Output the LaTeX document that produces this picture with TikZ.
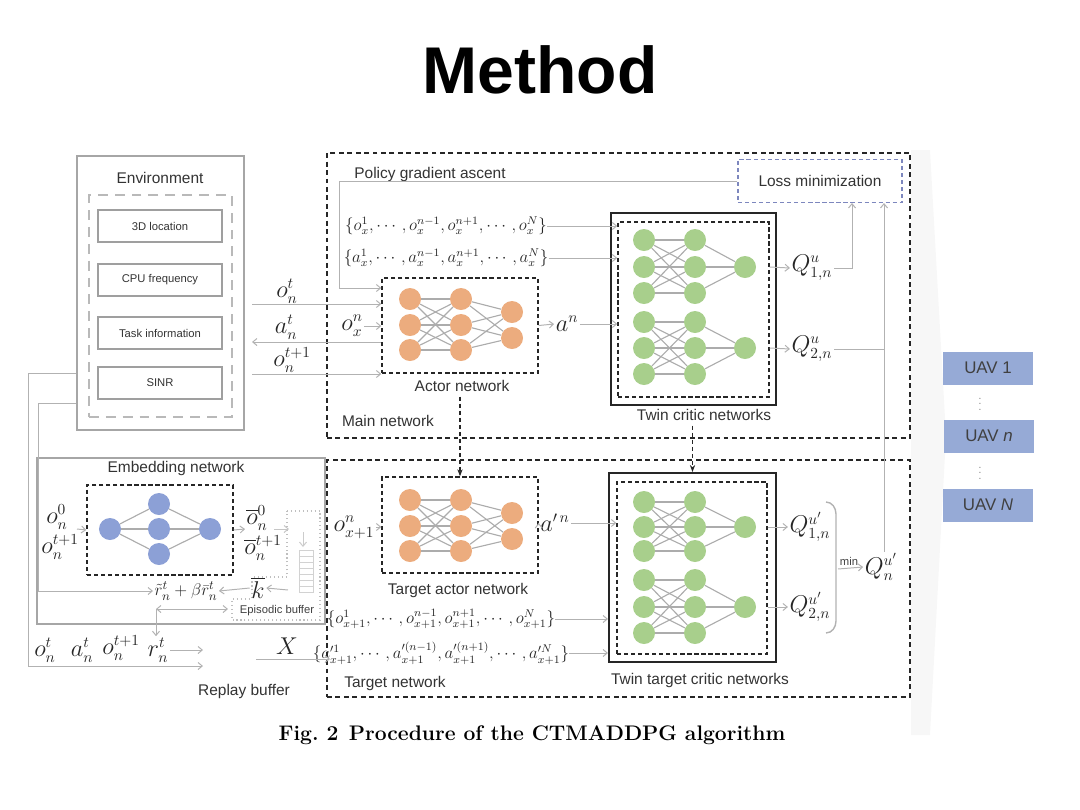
\documentclass[tikz,border=0pt]{standalone}
\usepackage{fontspec}
\setsansfont{Liberation Sans}
\usepackage{amsmath}
\usetikzlibrary{arrows.meta,fit}

\definecolor{actorc}{RGB}{236,172,126}
\definecolor{criticc}{RGB}{168,207,140}
\definecolor{embc}{RGB}{140,160,214}
\definecolor{uavc}{RGB}{150,170,214}
\definecolor{lossc}{RGB}{125,135,190}

\begin{document}
\begin{tikzpicture}[x=0.025cm,y=-0.025cm,font=\sffamily,
	bigbox/.style={draw=black!85,line width=1.3pt,dash pattern=on 3.5pt off 2.5pt,inner sep=0pt},
	netbox/.style={draw=black!85,line width=1pt,dash pattern=on 3pt off 2pt,inner sep=0pt},
	solidbox/.style={draw=black!85,line width=1.4pt,inner sep=0pt},
	envbox/.style={draw=gray!70,line width=1.2pt,inner sep=0pt},
	envdash/.style={draw=gray!55,line width=1.2pt,dash pattern=on 7pt off 5pt,inner sep=0pt},
	item/.style={draw=gray!75,line width=0.9pt,minimum width=3.1cm,minimum height=0.8cm,font=\sffamily\fontsize{8}{9}\selectfont,text=black!80},
	lossbox/.style={draw=lossc,line width=1pt,dash pattern=on 3pt off 2pt,minimum width=4.1cm,minimum height=1.08cm,font=\sffamily\fontsize{11}{13}\selectfont,text=black!80},
	actn/.style={circle,fill=actorc,minimum size=0.55cm,inner sep=0pt},
	crn/.style={circle,fill=criticc,minimum size=0.55cm,inner sep=0pt},
	embn/.style={circle,fill=embc,minimum size=0.55cm,inner sep=0pt},
	nnedge/.style={draw=gray!65,line width=0.8pt},
	flow/.style={draw=gray!60,line width=0.7pt,-{Straight Barb[length=3pt,width=5pt]}},
	line/.style={draw=gray!60,line width=0.7pt},
	dashflow/.style={draw=black!85,line width=1pt,dash pattern=on 3pt off 2pt,-{Stealth[length=5pt]}},
	lbl/.style={font=\sffamily\fontsize{11}{13}\selectfont,text=black!80},
	small/.style={font=\sffamily\fontsize{8}{9}\selectfont,text=black!75},
	mth/.style={font=\fontsize{16}{18}\selectfont,text=black!85,inner sep=1pt},
	sets/.style={font=\fontsize{12}{14}\selectfont,text=black!85,inner sep=0pt},
	tsets/.style={font=\fontsize{11.5}{13}\selectfont,text=black!85,inner sep=0pt},
	uav/.style={fill=uavc,minimum width=2.25cm,minimum height=0.825cm,font=\sffamily\fontsize{12}{14}\selectfont,text=black!75}]
\useasboundingbox (0,0) rectangle (1080,810);
% 背景箭头
\fill[gray!6] (911,150) -- (930,150) -- (946,436) -- (930,735) -- (911,735) -- cycle;
% 标题
\node[font=\sffamily\bfseries\fontsize{47}{54}\selectfont] (title) at (540,70) {Method};
\node[font=\rmfamily\bfseries\fontsize{15}{18}\selectfont] (cap) at (532,735) {Fig.~2\enspace Procedure of the CTMADDPG algorithm};
% 环境
\node[envbox,fit={(77,156) (244,430)}] (env) {};
\node[lbl] (envt) at (160,178) {Environment};
\node[envdash,fit={(89,195) (232,417)}] (envin) {};
\node[item] (loc) at (160,226) {3D location};
\node[item] (cpu) at (160,280) {CPU frequency};
\node[item] (task) at (160,333) {Task information};
\node[item] (sinr) at (160,383) {SINR};
% 主网络与目标网络
\node[bigbox,fit={(327,153) (910,438)}] (main) {};
\node[bigbox,fit={(327,460) (910,697)}] (target) {};
\node[lbl] (mainl) at (388,421) {Main network};
\node[lbl] (targl) at (395,683) {Target network};
\node[lossbox] (loss) at (820,181) {Loss minimization};
\node[lbl] (pga) at (430,174) {Policy gradient ascent};
\node[sets] (oset) at (446,226) {$\{o_x^1,\cdots,o_x^{n-1},o_x^{n+1},\cdots,o_x^N\}$};
\node[sets] (aset) at (446,258) {$\{a_x^1,\cdots,a_x^{n-1},a_x^{n+1},\cdots,a_x^N\}$};
% 演员网络
\node[netbox,fit={(382,278) (538,373)}] (actor) {};
\node[lbl] (actl) at (462,386) {Actor network};
\node[netbox,fit={(382,477) (538,573)}] (tactor) {};
\node[lbl] (tactl) at (458,590) {Target actor network};
\foreach \net/\yo in {a/0,ta/201}{
	\foreach \k/\yy in {1/299,2/325,3/350}{
		\node[actn] (\net-a\k) at (410,\yy+\yo) {};
		\node[actn] (\net-b\k) at (461,\yy+\yo) {};
	}
	\foreach \k/\yy in {1/312,2/338} \node[actn] (\net-c\k) at (512,\yy+\yo) {};
	\foreach \i in {1,2,3}{
		\foreach \j in {1,2,3} \draw[nnedge] (\net-a\i) -- (\net-b\j);
		\foreach \j in {1,2} \draw[nnedge] (\net-b\i) -- (\net-c\j);
	}
}
% 双评论家网络
\node[solidbox,fit={(611,213) (776,405)}] (crit) {};
\node[netbox,fit={(618,222) (769,397)}] (critin) {};
\node[lbl] (critl) at (704,415) {Twin critic networks};
\node[solidbox,fit={(609,473) (776,662)}] (tcrit) {};
\node[netbox,fit={(617,482) (767,654)}] (tcritin) {};
\node[lbl] (tcritl) at (700,680) {Twin target critic networks};
\foreach \net/\ya/\yb/\yc in {c1/240/267/293,c2/322/348/374,t1/502/527/551,t2/580/607/633}{
	\foreach \k/\yy in {1/\ya,2/\yb,3/\yc}{
		\node[crn] (\net-a\k) at (644,\yy) {};
		\node[crn] (\net-b\k) at (695,\yy) {};
	}
	\node[crn] (\net-o) at (745,\yb) {};
	\foreach \i in {1,2,3}{
		\draw[nnedge] (\net-b\i) -- (\net-o);
		\foreach \j in {1,2,3} \draw[nnedge] (\net-a\i) -- (\net-b\j);
	}
}
% 主网络连线
\coordinate (pgc) at (339,288);
\draw[flow] (loss.west) -| (pgc) -- (actor.west |- pgc);
\draw[flow] (oset.east) -- (critin.west |- oset.east);
\draw[flow] (aset.east) -- (critin.west |- aset.east);
\node[mth] (oxn) at (352,326) {$o_x^n$};
\draw[flow] (oxn.east) -- (actor.west |- oxn.east);
\node[mth] (an) at (567,324) {$a^n$};
\draw[flow] (actor.east) -- (an.west);
\draw[flow] (an.east) -- (critin.west |- an.east);
\node[mth] (q1) at (812,268) {$Q_{1,n}^{u}$};
\node[mth] (q2) at (812,349) {$Q_{2,n}^{u}$};
\draw[flow] (critin.east |- c1-o) -- (q1.west);
\draw[flow] (critin.east |- c2-o) -- (q2.west);
\coordinate (lq1) at (852,203);
\coordinate (lq2) at (884,203);
\draw[flow] (q1.east) -| (lq1);
\draw[line] (q2.east) -- (q2.east -| lq2);
% 环境与演员网络之间
\node[mth] (otl) at (287,291) {$o_n^t$};
\node[mth] (atl) at (286,327) {$a_n^t$};
\node[mth] (ot1l) at (292,360) {$o_n^{t+1}$};
\coordinate (in1) at (252,304);
\coordinate (in2) at (252,342);
\coordinate (in3) at (252,374);
\draw[flow] (in1) -- (actor.west |- in1);
\draw[flow] (actor.west |- in2) -- (in2);
\draw[flow] (in3) -- (actor.west |- in3);
% 主网络到目标网络
\draw[dashflow] (actl.south -| tactor.north) -- (tactor.north);
\draw[dashflow] (critl.south -| tcrit.north) -- (tcrit.north);
% 目标网络连线
\node[mth] (oxn1) at (354,527) {$o_{x+1}^n$};
\draw[flow] (oxn1.east) -- (tactor.west |- oxn1.east);
\node[mth] (apn) at (555,523) {$a^{\prime\,n}$};
\draw[flow] (tactor.east) -- (apn.west);
\draw[flow] (apn.east) -- (tcritin.west |- apn.east);
\node[tsets] (toset) at (441,619) {$\{o_{x+1}^1,\cdots,o_{x+1}^{n-1},o_{x+1}^{n+1},\cdots,o_{x+1}^N\}$};
\node[tsets] (taset) at (441,653) {$\{a_{x+1}^{\prime 1},\cdots,a_{x+1}^{\prime(n-1)},a_{x+1}^{\prime(n+1)},\cdots,a_{x+1}^{\prime N}\}$};
\draw[flow] (toset.east) -- (tcrit.west |- toset.east);
\draw[flow] (taset.east) -- (tcrit.west |- taset.east);
\node[mth] (q1p) at (810,527) {$Q_{1,n}^{u'}$};
\node[mth] (q2p) at (810,607) {$Q_{2,n}^{u'}$};
\draw[flow] (tcritin.east |- t1-o) -- (q1p.west);
\draw[flow] (tcritin.east |- t2-o) -- (q2p.west);
\draw[line,line width=1pt] (826,502) to[out=0,in=90] (836,514) -- (836,621) to[out=-90,in=0] (826,633);
\node[small] (minl) at (849,561) {min};
\node[mth] (qn) at (881,567) {$Q_n^{u'}$};
\coordinate (mins) at (838,569);
\draw[flow] (mins) -- (qn.west);
\draw[flow] (qn.north -| lq2) -- (lq2);
% 嵌入网络
\node[envbox,line width=1pt,fit={(37,458) (325,624)}] (emb) {};
\node[lbl] (embl) at (176,468) {Embedding network};
\node[netbox,fit={(87,485) (233,575)}] (embnet) {};
\node[embn] (e1) at (110,529) {};
\foreach \k/\yy in {1/504,2/529,3/554} \node[embn] (e2\k) at (159,\yy) {};
\node[embn] (e3) at (210,529) {};
\foreach \k in {1,2,3} \draw[nnedge] (e1) -- (e2\k) -- (e3);
\node[mth] (o0) at (57,517) {$o_n^0$};
\node[mth] (o1) at (60,547) {$o_n^{t+1}$};
\coordinate (ein) at (77,529);
\draw[flow] (ein) -- (embnet.west);
\coordinate (eout) at (245,529);
\draw[flow] (embnet.east) -- (eout);
\node[mth] (bo0) at (257,518) {$\overline{o}_n^0$};
\node[mth] (bo1) at (263,548) {$\overline{o}_n^{t+1}$};
% 情景缓存
\draw[gray!50,line width=0.8pt,dotted] (287,511) -- (320,511) -- (320,620) -- (232,620) -- (232,599) -- (252,599) -- (252,577) -- (287,577) -- cycle;
\coordinate (ep1) at (274,529);
\coordinate (ep2) at (289,529);
\draw[flow,gray!45] (ep1) -- (ep2);
\draw[gray!35] (299,550) rectangle (313,592);
\foreach \yy in {556,562,...,586} \draw[gray!35] (299,\yy) -- (313,\yy);
\draw[flow,gray!40] (303,532) -- (303,547);
\node[small] (epil) at (277,611) {Episodic buffer};
\node[mth] (kb) at (258,588) {$\overline{k}$};
\coordinate (kin) at (288,590);
\draw[flow] (kin) -- (kb.east);
\node[font=\fontsize{13}{15}\selectfont,text=black!85,inner sep=1pt] (rsum) at (186,591) {$\tilde{r}_n^t+\beta\bar{r}_n^t$};
\draw[flow] (kb.west) -- (rsum.east);
% 经验回放
\node[mth] (bot) at (45,650) {$o_n^t$};
\node[mth] (bat) at (82,650) {$a_n^t$};
\node[mth] (bot1) at (121,648) {$o_n^{t+1}$};
\node[mth] (brt) at (158,650) {$r_n^t$};
\coordinate (rb1) at (203,648);
\draw[flow] (brt.east) -- (brt.east -| rb1);
\coordinate (da1) at (156,609);
\coordinate (da2) at (228,609);
\draw[flow,{Straight Barb[length=3pt,width=5pt]}-{Straight Barb[length=3pt,width=5pt]}] (da1) -- (da2);
\draw[flow] (da1) -- (da1 |- brt.north);
\coordinate (e1) at (28,373);
\coordinate (e2) at (38,403);
\coordinate (rb2) at (203,666);
\draw[flow] (env.west |- e1) -- (e1) |- (rb2);
\draw[flow] (env.west |- e2) -- (e2) |- (rsum.west);
\node[mth] (xb) at (287,646) {$X$};
\coordinate (xs) at (256,659);
\coordinate (xe) at (330,659);
\draw[flow] (xs) -- (xe);
\node[lbl] (rbl) at (244,691) {Replay buffer};
% 无人机
\node[uav] (u1) at (988,368) {UAV 1};
\node[uav] (un) at (989,436) {UAV \textit{n}};
\node[uav] (uN) at (988,505) {UAV \textit{N}};
\node[font=\fontsize{8}{8}\selectfont,text=gray] (d1) at (980,400) {$\vdots$};
\node[font=\fontsize{8}{8}\selectfont,text=gray] (d2) at (980,469) {$\vdots$};
\end{tikzpicture}
\end{document}
